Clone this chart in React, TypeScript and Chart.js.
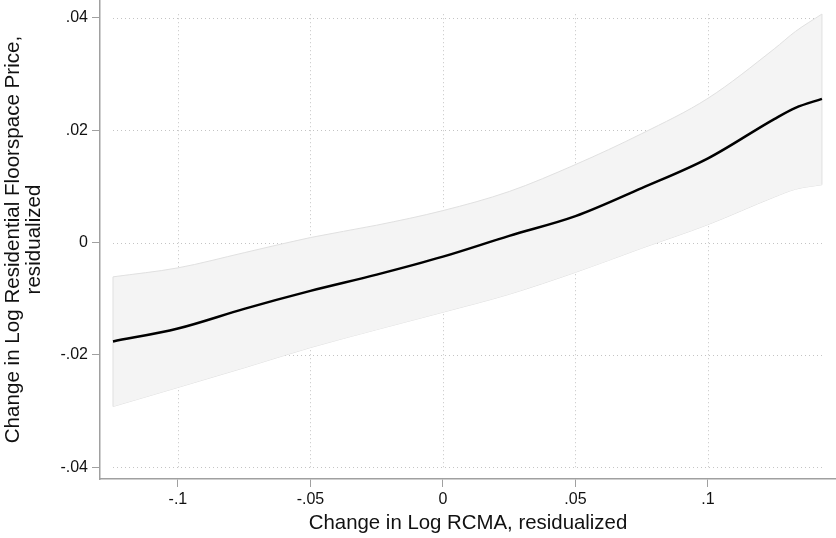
import React, { useEffect, useRef } from "react";
import { Chart, registerables } from "chart.js";

Chart.register(...registerables);

// Data
const xValues = [-0.1245, -0.1, -0.075, -0.05, -0.025, 0, 0.025, 0.05, 0.075, 0.1, 0.125, 0.133, 0.143];
const fitLine = [-0.0176, -0.0153, -0.0118, -0.0086, -0.0057, -0.0025, 0.0012, 0.0047, 0.0097, 0.015, 0.022, 0.024, 0.0256];
const upperBand = [-0.0061, -0.0045, -0.0018, 0.0009, 0.0031, 0.0057, 0.0091, 0.0139, 0.0194, 0.0257, 0.0345, 0.0376, 0.0407];
const lowerBand = [-0.0292, -0.0258, -0.0223, -0.0187, -0.0155, -0.0124, -0.0092, -0.0053, -0.001, 0.0032, 0.0081, 0.0095, 0.0103];

const xTickValues = [-0.1, -0.05, 0, 0.05, 0.1];
const xTickLabels = ["-.1", "-.05", "0", ".05", ".1"];
const yTickValues = [-0.04, -0.02, 0, 0.02, 0.04];
const yTickLabels = ["-.04", "-.02", "0", ".02", ".04"];

const xTitle = "Change in Log RCMA, residualized";
const yTitle = ["Change in Log Residential Floorspace Price,", "residualized"];

const FONT = "Helvetica, Arial, 'Liberation Sans', sans-serif";

export default function App() {
  const canvasRef = useRef<HTMLCanvasElement | null>(null);

  useEffect(() => {
    const canvas = canvasRef.current;
    if (!canvas) return;

    const toPts = (ys: number[]) => xValues.map((x, i) => ({ x, y: ys[i] }));

    const gridPlugin = {
      id: "dottedGrid",
      beforeDraw(chart: any) {
        const { ctx } = chart;
        const xs = chart.scales.x;
        const ys = chart.scales.y;
        ctx.save();
        ctx.strokeStyle = "#c4c4c4";
        ctx.lineWidth = 1;
        ctx.setLineDash([1, 3]);
        const x0 = xs.getPixelForValue(xValues[0]);
        const x1 = xs.getPixelForValue(xValues[xValues.length - 1]);
        yTickValues.forEach((v) => {
          const py = Math.round(ys.getPixelForValue(v)) + 0.5;
          ctx.beginPath();
          ctx.moveTo(x0, py);
          ctx.lineTo(x1, py);
          ctx.stroke();
        });
        const y0 = ys.getPixelForValue(yTickValues[0]);
        const y1 = ys.getPixelForValue(Math.max(...upperBand));
        xTickValues.forEach((v) => {
          const px = Math.round(xs.getPixelForValue(v)) + 0.5;
          ctx.beginPath();
          ctx.moveTo(px, y0);
          ctx.lineTo(px, y1);
          ctx.stroke();
        });
        ctx.restore();
      },
      afterDatasetDraw(chart: any, args: any) {
        if (args.index !== 1) return;
        const { ctx } = chart;
        const xs = chart.scales.x;
        const ys = chart.scales.y;
        ctx.save();
        ctx.strokeStyle = "#e0e0e0";
        ctx.lineWidth = 1;
        const n = xValues.length - 1;
        [0, n].forEach((i) => {
          const px = xs.getPixelForValue(xValues[i]);
          ctx.beginPath();
          ctx.moveTo(px, ys.getPixelForValue(upperBand[i]));
          ctx.lineTo(px, ys.getPixelForValue(lowerBand[i]));
          ctx.stroke();
        });
        ctx.restore();
      },
    };

    const zeroPad = (scale: any) => {
      scale.paddingTop = 0;
      scale.paddingBottom = 0;
      scale.paddingLeft = 0;
      scale.paddingRight = 0;
    };

    const chart = new Chart(canvas, {
      type: "line",
      data: {
        datasets: [
          {
            label: "Fit",
            data: toPts(fitLine),
            borderColor: "#000000",
            borderWidth: 2.5,
            pointRadius: 0,
            fill: false,
            cubicInterpolationMode: "monotone",
          },
          {
            label: "Upper",
            data: toPts(upperBand),
            borderColor: "#e0e0e0",
            borderWidth: 1,
            backgroundColor: "#f4f4f4",
            pointRadius: 0,
            fill: "+1",
            cubicInterpolationMode: "monotone",
          },
          {
            label: "Lower",
            data: toPts(lowerBand),
            borderColor: "#e0e0e0",
            borderWidth: 1,
            pointRadius: 0,
            fill: false,
            cubicInterpolationMode: "monotone",
          },
        ],
      },
      options: {
        animation: false,
        responsive: false,
        devicePixelRatio: 1,
        layout: { padding: 0 },
        plugins: {
          legend: { display: false },
          tooltip: { enabled: false },
        },
        scales: {
          x: {
            type: "linear",
            position: "bottom",
            min: -0.1294,
            max: 0.1483,
            afterBuildTicks: (scale: any) => {
              scale.ticks = xTickValues.map((v) => ({ value: v }));
            },
            afterFit: (scale: any) => {
              scale.height = 59;
              zeroPad(scale);
            },
            ticks: {
              callback: (_v: any, i: number) => xTickLabels[i],
              font: { family: FONT, size: 16 },
              color: "#111111",
              padding: 3,
              maxRotation: 0,
              autoSkip: false,
            },
            grid: {
              display: true,
              drawOnChartArea: false,
              drawTicks: true,
              tickLength: 8,
              tickColor: "#a0a0a0",
              tickWidth: 1,
            },
            border: { display: true, color: "#a0a0a0", width: 1.5 },
            title: {
              display: true,
              text: xTitle,
              font: { family: FONT, size: 20.4 },
              color: "#111111",
              padding: { top: 0, bottom: 2 },
            },
          },
          y: {
            type: "linear",
            min: -0.0421,
            max: 0.0432,
            afterBuildTicks: (scale: any) => {
              scale.ticks = yTickValues.map((v) => ({ value: v }));
            },
            afterFit: (scale: any) => {
              scale.width = 100;
              zeroPad(scale);
            },
            ticks: {
              callback: (_v: any, i: number) => yTickLabels[i],
              font: { family: FONT, size: 16 },
              color: "#111111",
              padding: 4,
              autoSkip: false,
            },
            grid: {
              display: true,
              drawOnChartArea: false,
              drawTicks: true,
              tickLength: 8,
              tickColor: "#a0a0a0",
              tickWidth: 1,
            },
            border: { display: true, color: "#a0a0a0", width: 1.5 },
            title: {
              display: true,
              text: yTitle,
              font: { family: FONT, size: 20.6, lineHeight: 1.0 },
              color: "#111111",
              padding: { top: 3, bottom: 0 },
            },
          },
        },
      },
      plugins: [gridPlugin],
    } as any);

    return () => chart.destroy();
  }, []);

  return (
    <div style={{ position: "absolute", left: 0, top: 0, width: 836, height: 538, background: "#ffffff" }}>
      <canvas ref={canvasRef} width={836} height={538} style={{ display: "block" }} />
    </div>
  );
}
